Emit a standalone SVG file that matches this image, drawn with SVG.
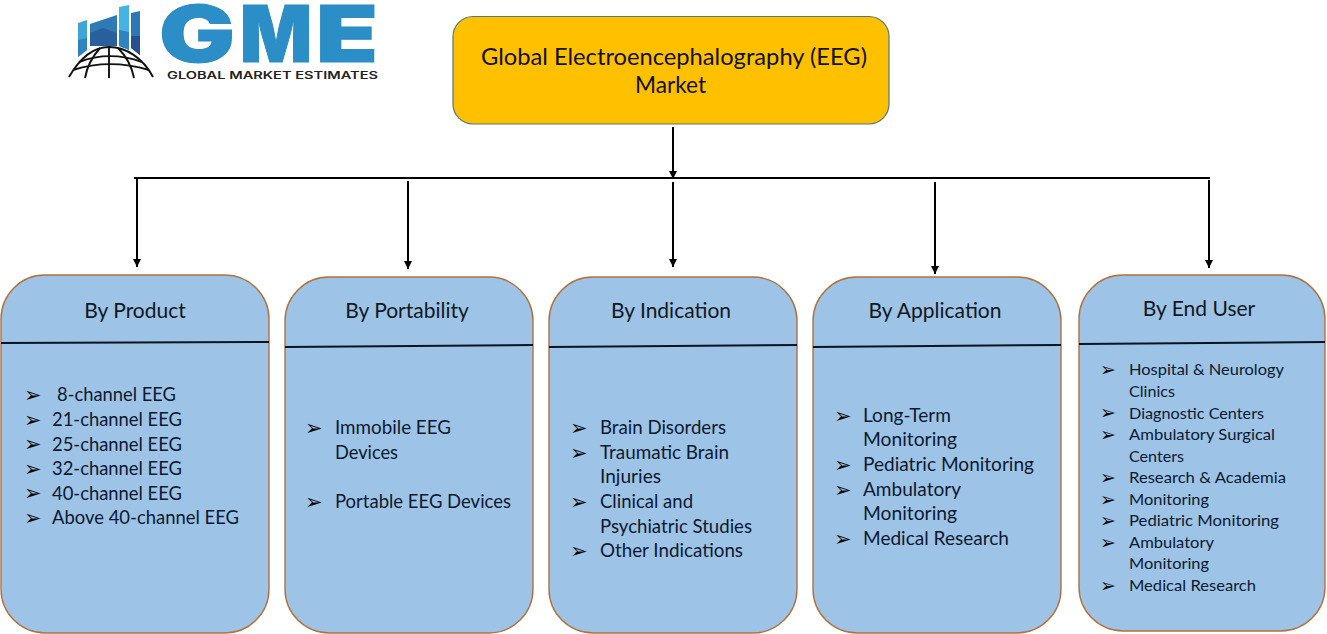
<svg xmlns="http://www.w3.org/2000/svg" width="1327" height="634" viewBox="0 0 1327 634">
<style>
text{font-family:"Lato","Carlito","Open Sans",sans-serif;fill:#0b1a30}
.card{fill:#9dc3e6;stroke:#b5703c;stroke-width:1.4}
.div{stroke:#0a1420;stroke-width:2;fill:none}
.h{font-size:21px;text-anchor:middle;fill:#101820}
.m{font-size:18.6px}
.s{font-size:16px}
.b{font-family:"DejaVu Sans","Noto Sans CJK SC",sans-serif;fill:#0a0a0a}
.conn{stroke:#000;stroke-width:2;fill:none}
.gme{font-family:"Inter","DejaVu Sans",sans-serif;font-weight:900;font-size:78px;fill:#2b8ec6;stroke:#2b8ec6;stroke-width:1}
</style>
<defs>
<marker id="a" markerUnits="userSpaceOnUse" markerWidth="9" markerHeight="9" refX="8" refY="4" orient="auto"><path d="M0 0L8 4L0 8Z" fill="#000"/></marker>
</defs>
<rect width="1327" height="634" fill="#fff"/>
<g id="logo">
<path d="M78 23L87 20V50L78 57Z" fill="#3fa4d8"/>
<path d="M78 40L87 38V50L78 57Z" fill="#2f84c0"/>
<path d="M90 24L117 15V46L90 46Z" fill="#2f79b5"/>
<path d="M90 33L103 28L117 33V46H90Z" fill="#2a5f9e"/>
<path d="M119 7L129 5V50L119 46Z" fill="#45b3e3"/>
<path d="M119 30L129 32V50L119 46Z" fill="#2f84c0"/>
<path d="M131 13L140 11V55L131 48Z" fill="#2b78b8"/>
<path d="M131 36H140V55L131 48Z" fill="#27508f"/>
<g fill="none" stroke="#111" stroke-width="1.900">
<path d="M69 77C80 58 94 47 109 47C126 47 143 58 153 77"/>
<path d="M79 62C100 54 120 54 142 62M73 70C98 62 122 62 149 70"/>
<path d="M109 47V78M100 48C92 57 87 67 85 78M118 48C127 57 132 67 134 78"/>
</g>
<text class="gme" x="159" y="62" textLength="76" lengthAdjust="spacingAndGlyphs">G</text>
<text class="gme" x="240" y="62" textLength="72" lengthAdjust="spacingAndGlyphs">M</text>
<text class="gme" x="316" y="62" textLength="62" lengthAdjust="spacingAndGlyphs">E</text>
<text x="167" y="79" textLength="211" lengthAdjust="spacingAndGlyphs" style="font-family:'Inter',sans-serif;font-weight:600;font-size:10px;fill:#222">GLOBAL MARKET ESTIMATES</text>
</g>
<g id="root">
<rect x="453" y="16.500" width="436" height="107.500" rx="20" fill="#ffc000" stroke="#4f7a7a" stroke-width="1.200"/>
<text x="481" y="65" textLength="386" lengthAdjust="spacingAndGlyphs" style="font-size:24px;fill:#111">Global Electroencephalography (EEG)</text>
<text x="635" y="93" textLength="71" lengthAdjust="spacingAndGlyphs" style="font-size:24px;fill:#111">Market</text>
</g>
<g id="connectors">
<path class="conn" d="M673 127V179" marker-end="url(#a)"/>
<path class="conn" d="M134 178H1210"/>
<path class="conn" d="M137 179V267" marker-end="url(#a)"/>
<path class="conn" d="M408 181V269" marker-end="url(#a)"/>
<path class="conn" d="M673 182V267" marker-end="url(#a)"/>
<path class="conn" d="M935 182V274" marker-end="url(#a)"/>
<path class="conn" d="M1209 180V268" marker-end="url(#a)"/>
</g>
<g id="by-product">
<rect class="card" x="1" y="275" width="268" height="358" rx="44"/>
<path class="div" d="M1 343L269 342"/>
<text class="h" x="135" y="318">By Product</text>
<g class="m">
<text class="b" x="24" y="402" font-size="21">➢</text><text x="57" y="401" textLength="119" lengthAdjust="spacingAndGlyphs">8-channel EEG</text>
<text class="b" x="24" y="427" font-size="21">➢</text><text x="52" y="426" textLength="130" lengthAdjust="spacingAndGlyphs">21-channel EEG</text>
<text class="b" x="24" y="451" font-size="21">➢</text><text x="52" y="451" textLength="130" lengthAdjust="spacingAndGlyphs">25-channel EEG</text>
<text class="b" x="24" y="476" font-size="21">➢</text><text x="52" y="475" textLength="130" lengthAdjust="spacingAndGlyphs">32-channel EEG</text>
<text class="b" x="24" y="500" font-size="21">➢</text><text x="52" y="500" textLength="130" lengthAdjust="spacingAndGlyphs">40-channel EEG</text>
<text class="b" x="24" y="525" font-size="21">➢</text><text x="52" y="524" textLength="187" lengthAdjust="spacingAndGlyphs">Above 40-channel EEG</text>
</g>
</g>
<g id="by-portability">
<rect class="card" x="285" y="277" width="248" height="356" rx="44"/>
<path class="div" d="M285 347L533 345"/>
<text class="h" x="407" y="318">By Portability</text>
<g class="m">
<text class="b" x="305" y="435" font-size="21">➢</text><text x="335" y="434" textLength="116" lengthAdjust="spacingAndGlyphs">Immobile EEG</text>
<text x="335" y="459" textLength="63" lengthAdjust="spacingAndGlyphs">Devices</text>
<text class="b" x="305" y="509" font-size="21">➢</text><text x="335" y="508" textLength="176" lengthAdjust="spacingAndGlyphs">Portable EEG Devices</text>
</g>
</g>
<g id="by-indication">
<rect class="card" x="549" y="277" width="248" height="356" rx="44"/>
<path class="div" d="M549 347L797 345"/>
<text class="h" x="671" y="318">By Indication</text>
<g class="m">
<text class="b" x="570" y="435" font-size="21">➢</text><text x="600" y="434" textLength="126" lengthAdjust="spacingAndGlyphs">Brain Disorders</text>
<text class="b" x="570" y="460" font-size="21">➢</text><text x="600" y="459" textLength="129" lengthAdjust="spacingAndGlyphs">Traumatic Brain</text>
<text x="600" y="483" textLength="61" lengthAdjust="spacingAndGlyphs">Injuries</text>
<text class="b" x="570" y="509" font-size="21">➢</text><text x="600" y="508" textLength="93" lengthAdjust="spacingAndGlyphs">Clinical and</text>
<text x="600" y="533" textLength="152" lengthAdjust="spacingAndGlyphs">Psychiatric Studies</text>
<text class="b" x="570" y="558" font-size="21">➢</text><text x="600" y="557" textLength="143" lengthAdjust="spacingAndGlyphs">Other Indications</text>
</g>
</g>
<g id="by-application">
<rect class="card" x="813" y="277" width="248" height="356" rx="44"/>
<path class="div" d="M813 347L1061 345"/>
<text class="h" x="935" y="318">By Application</text>
<g class="m">
<text class="b" x="834" y="423" font-size="21">➢</text><text x="863" y="422" textLength="88" lengthAdjust="spacingAndGlyphs">Long-Term</text>
<text x="863" y="446" textLength="94" lengthAdjust="spacingAndGlyphs">Monitoring</text>
<text class="b" x="834" y="472" font-size="21">➢</text><text x="863" y="471" textLength="171" lengthAdjust="spacingAndGlyphs">Pediatric Monitoring</text>
<text class="b" x="834" y="497" font-size="21">➢</text><text x="863" y="496" textLength="98" lengthAdjust="spacingAndGlyphs">Ambulatory</text>
<text x="863" y="520" textLength="94" lengthAdjust="spacingAndGlyphs">Monitoring</text>
<text class="b" x="834" y="546" font-size="21">➢</text><text x="863" y="545" textLength="146" lengthAdjust="spacingAndGlyphs">Medical Research</text>
</g>
</g>
<g id="by-end-user">
<rect class="card" x="1079" y="275" width="246" height="356" rx="44"/>
<path class="div" d="M1079 344L1325 342"/>
<text class="h" x="1199" y="316">By End User</text>
<g class="s">
<text class="b" x="1100" y="376" font-size="19">➢</text><text x="1129" y="375" textLength="155" lengthAdjust="spacingAndGlyphs">Hospital &amp; Neurology</text>
<text x="1129" y="397" textLength="46" lengthAdjust="spacingAndGlyphs">Clinics</text>
<text class="b" x="1100" y="419" font-size="19">➢</text><text x="1129" y="419" textLength="135" lengthAdjust="spacingAndGlyphs">Diagnostic Centers</text>
<text class="b" x="1100" y="441" font-size="19">➢</text><text x="1129" y="440" textLength="146" lengthAdjust="spacingAndGlyphs">Ambulatory Surgical</text>
<text x="1129" y="462" textLength="55" lengthAdjust="spacingAndGlyphs">Centers</text>
<text class="b" x="1100" y="484" font-size="19">➢</text><text x="1129" y="483" textLength="157" lengthAdjust="spacingAndGlyphs">Research &amp; Academia</text>
<text class="b" x="1100" y="506" font-size="19">➢</text><text x="1129" y="505" textLength="80" lengthAdjust="spacingAndGlyphs">Monitoring</text>
<text class="b" x="1100" y="527" font-size="19">➢</text><text x="1129" y="526" textLength="150" lengthAdjust="spacingAndGlyphs">Pediatric Monitoring</text>
<text class="b" x="1100" y="549" font-size="19">➢</text><text x="1129" y="548" textLength="85" lengthAdjust="spacingAndGlyphs">Ambulatory</text>
<text x="1129" y="569" textLength="80" lengthAdjust="spacingAndGlyphs">Monitoring</text>
<text class="b" x="1100" y="592" font-size="19">➢</text><text x="1129" y="591" textLength="127" lengthAdjust="spacingAndGlyphs">Medical Research</text>
</g>
</g>
</svg>
